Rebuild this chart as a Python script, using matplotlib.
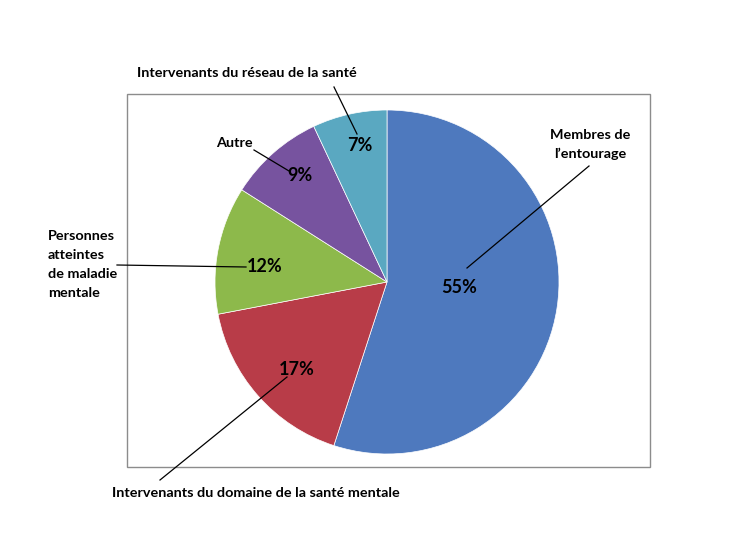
import numpy as np
import matplotlib.pyplot as plt
from matplotlib.patches import Rectangle

categories = ["Membres de\nl\u2019entourage",
              "Intervenants du domaine de la sant\u00e9 mentale",
              "Personnes\natteintes\nde maladie\nmentale",
              "Autre",
              "Intervenants du r\u00e9seau de la sant\u00e9"]
values = [55, 17, 12, 9, 7]
colors = ["#4E79BE", "#B83C48", "#8DB94B", "#77539F", "#5AA8C1"]

# layout (figure pixels, y from bottom)
W, H = 746, 554
cx, cy, R = 387, H - 282, 172
pct_r = [0.42, 0.73, 0.72, 0.80, 0.81]
pct_dang = [5, 2.6, 3.4, -2.3, -1.5]

# category label position, alignment, leader line end points
lab_pos = [(590, H - 144.5, "center"), (256, H - 493, "center"), (48, H - 264.5, "left"),
           (234, H - 143, "center"), (247, H - 73, "center")]
leaders = [((589, H - 166), (467, H - 268)),
           ((160, H - 480), (287, H - 377)),
           ((117, H - 265), (246, H - 267)),
           ((254, H - 150), (289, H - 171)),
           ((334, H - 87), (357, H - 134))]

plt.rcParams['font.family'] = ['Lato', 'DejaVu Sans']
fig = plt.figure(figsize=(W / 100, H / 100), dpi=100)
ax = fig.add_axes([0, 0, 1, 1])

ax.add_patch(Rectangle((127, H - 467), 523, 373, fill=False, edgecolor="#8C8C8C", linewidth=1))

wedges, _ = ax.pie(values, colors=colors, startangle=90, counterclock=False,
                   center=(cx, cy), radius=R, frame=True,
                   wedgeprops=dict(linewidth=0.5, edgecolor="white"))
ax.set_xlim(0, W)
ax.set_ylim(0, H)
ax.axis("off")

for w, v, r, da in zip(wedges, values, pct_r, pct_dang):
    ang = np.deg2rad((w.theta1 + w.theta2) / 2 + da)
    ax.text(cx + r * R * np.cos(ang), cy + r * R * np.sin(ang), f"{v}%",
            ha="center", va="center", fontsize=13, fontweight="bold")

for lab, (x, y, ha), (p0, p1) in zip(categories, lab_pos, leaders):
    ax.text(x, y, lab, ha=ha, va="center", fontsize=10.4, fontweight="bold",
            linespacing=1.68)
    ax.plot([p0[0], p1[0]], [p0[1], p1[1]], color="black", linewidth=0.9)

fig.savefig("out.png", dpi=100)
